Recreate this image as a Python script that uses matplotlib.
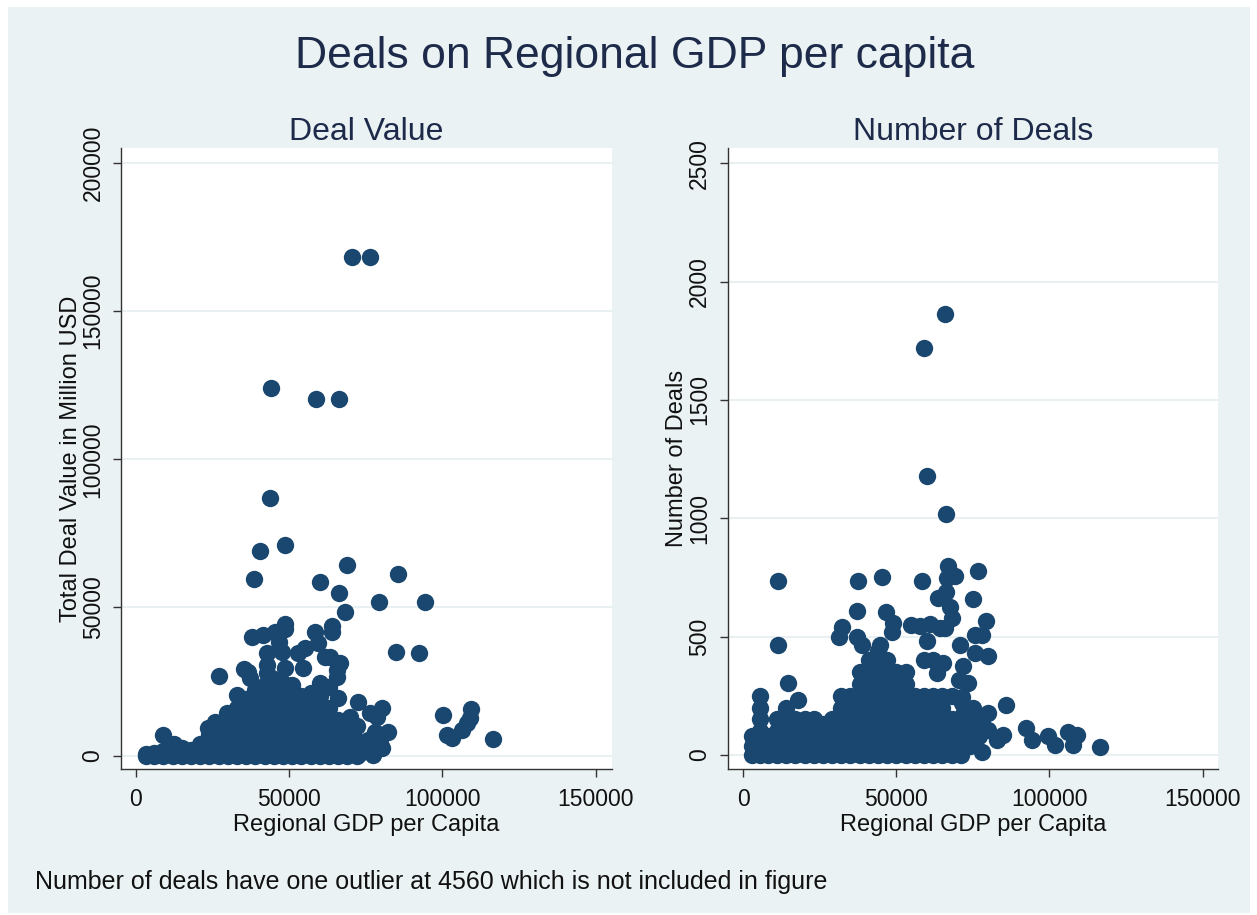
import matplotlib
matplotlib.use("Agg")
import matplotlib.pyplot as plt
from matplotlib.patches import Rectangle

# ---------------- data ----------------
# Left panel: Regional GDP per capita vs total deal value (million USD)
value_outlier_gdp = [70500, 76400, 44100, 58800, 66200, 43900, 40500, 48800, 69000, 38600,
                     60100, 66400, 85600, 79400, 68200, 94300, 84900, 92400, 48700, 48700,
                     37800, 41400, 45400, 46700, 47600, 42700, 42700, 58500, 59500, 63900,
                     63900, 53000, 55200, 61700, 63300, 66600, 48700, 54600, 35300, 36700,
                     37300, 65700, 65700, 27300, 42700, 32900, 100100, 101400, 103000, 106300,
                     107900, 109000, 109200, 116400, 8800, 72600, 80200, 82300, 80200, 77500,
                     75800, 76400, 78600, 69900, 67700, 73100, 79700, 25900, 29700, 23700]
value_outlier_val = [168300, 168300, 124000, 120300, 120300, 86800, 69200, 71200, 64300, 59700,
                     58600, 55000, 61300, 51700, 48500, 51700, 35100, 34800, 44300, 42700,
                     40100, 40700, 41800, 38500, 35100, 34600, 30600, 41800, 37900, 43800,
                     41800, 34500, 36200, 33400, 33400, 31200, 29700, 29700, 29100, 28300,
                     26100, 28900, 26700, 27000, 27800, 20500, 13700, 7000, 5900, 8700,
                     10900, 12600, 15800, 5700, 6900, 18200, 16000, 8100, 2500, 240,
                     5300, 14300, 13200, 13200, 7600, 800, 4200, 11500, 14300, 9200]

value_cluster_gdp = [3500, 3500, 6000, 6000, 9000, 9000, 12000, 12000, 12600, 15000, 15000, 15000,
                     18000, 18000, 21000, 21000, 21000, 24000, 24000, 24000, 27000, 27000, 27000,
                     30000, 30000, 30000, 30000, 33000, 33000, 33000, 33000, 33000,
                     36000, 36000, 36000, 36000, 36000, 36000,
                     39000, 39000, 39000, 39000, 39000, 39000, 39000,
                     42000, 42000, 42000, 42000, 42000, 42000, 42000,
                     45000, 45000, 45000, 45000, 45000, 45000, 45000, 45000,
                     48000, 48000, 48000, 48000, 48000, 48000, 48000,
                     51000, 51000, 51000, 51000, 51000, 51000, 51000,
                     54000, 54000, 54000, 54000, 54000, 54000,
                     57000, 57000, 57000, 57000, 57000, 57000,
                     60000, 60000, 60000, 60000, 60000, 60000, 60000,
                     63000, 63000, 63000, 63000, 63000, 63000,
                     66000, 66000, 66000, 66000, 66000,
                     69000, 69000, 69000, 69000, 72000, 72000, 72000, 75000, 78000]
value_cluster_val = [0, 600, 0, 900, 0, 1500, 0, 2000, 4000, 0, 1500, 2500,
                     0, 1800, 0, 2500, 4000, 0, 3500, 7000, 0, 4000, 8000,
                     0, 4000, 8000, 12000, 0, 4000, 8000, 12000, 16000,
                     0, 4000, 8000, 12000, 16000, 19000,
                     0, 4000, 8000, 12000, 16000, 20000, 22000,
                     0, 4000, 8000, 12000, 16000, 20000, 24000,
                     0, 4000, 8000, 12000, 16000, 20000, 24000, 26000,
                     0, 4000, 8000, 12000, 16000, 20000, 24400,
                     0, 4000, 8000, 12000, 16000, 20000, 23900,
                     0, 4000, 8000, 12000, 16000, 20000,
                     0, 4000, 8000, 12000, 16000, 21100,
                     0, 4000, 8000, 12000, 16000, 20000, 24400,
                     0, 4000, 8000, 12000, 16000, 23300,
                     0, 4000, 8000, 12000, 19400,
                     0, 3000, 7000, 11000, 0, 5000, 10000, 2000, 8000]

# Right panel: Regional GDP per capita vs number of deals
count_outlier_gdp = [59000, 65900, 60000, 66100, 11400, 11200, 14700, 37600, 45200, 58300,
                     67000, 66400, 69100, 76800, 66200, 63700, 75100, 67500, 68100, 79300,
                     37000, 46500, 32100, 31400, 37000, 38700, 49000, 48500, 54700, 57700,
                     61000, 64200, 65900, 60100, 44600, 70800, 75700, 77900, 75700, 80000,
                     71700, 70500, 73500, 77900, 85800, 80000, 92300, 94200, 99600, 101800,
                     106100, 108900, 107800, 116500, 84900, 82800, 80000, 71300, 71300, 65300,
                     63200, 18000, 72000, 75000, 78000, 74000, 77000, 70000]
count_outlier_num = [1720, 1864, 1179, 1019, 735, 464, 306, 735, 751, 735,
                     799, 747, 754, 776, 690, 662, 661, 624, 578, 568,
                     610, 603, 542, 500, 500, 465, 557, 521, 550, 546,
                     555, 538, 536, 483, 465, 465, 507, 507, 432, 418,
                     377, 317, 306, 14, 213, 176, 113, 63, 80, 42,
                     98, 85, 42, 35, 85, 63, 106, 246, 218, 388,
                     345, 232, 180, 200, 150, 130, 100, 150]

count_cluster_gdp = [3000, 3000, 3000, 5500, 5500, 5500, 5500, 5500, 5500, 8000, 8000, 8000,
                     11000, 11000, 11000, 11000, 14000, 14000, 14000, 14000, 14000,
                     17000, 17000, 17000, 17000, 20000, 20000, 20000, 20000,
                     23000, 23000, 23000, 23000, 26000, 26000, 26000, 26000,
                     29000, 29000, 29000, 29000, 32000, 32000, 32000, 32000, 32000, 32000,
                     35000, 35000, 35000, 35000, 35000, 35000,
                     38000, 38000, 38000, 38000, 38000, 38000, 38000, 38000,
                     41000, 41000, 41000, 41000, 41000, 41000, 41000, 41000, 41000,
                     44000, 44000, 44000, 44000, 44000, 44000, 44000, 44000, 44000, 44000,
                     47000, 47000, 47000, 47000, 47000, 47000, 47000, 47000, 47000,
                     50000, 50000, 50000, 50000, 50000, 50000, 50000, 50000,
                     53000, 53000, 53000, 53000, 53000, 53000, 53000, 53000,
                     56000, 56000, 56000, 56000, 56000, 56000,
                     59000, 59000, 59000, 59000, 59000, 59000, 59000,
                     62000, 62000, 62000, 62000, 62000, 62000, 62000,
                     65000, 65000, 65000, 65000, 65000, 65000,
                     68000, 68000, 68000, 68000, 68000,
                     71000, 71000, 71000, 74000, 74000, 74000, 77000, 77000]
count_cluster_num = [0, 40, 80, 0, 50, 100, 150, 200, 250, 0, 40, 80,
                     0, 50, 100, 150, 0, 50, 100, 150, 200,
                     0, 50, 100, 150, 0, 50, 100, 150,
                     0, 50, 100, 150, 0, 50, 100, 130,
                     0, 50, 100, 150, 0, 50, 100, 150, 200, 250,
                     0, 50, 100, 150, 200, 250,
                     0, 50, 100, 150, 200, 250, 300, 350,
                     0, 50, 100, 150, 200, 250, 300, 350, 400,
                     0, 50, 100, 150, 200, 250, 300, 350, 400, 440,
                     0, 50, 100, 150, 200, 250, 300, 350, 400,
                     0, 50, 100, 150, 200, 250, 300, 350,
                     0, 50, 100, 150, 200, 250, 300, 350,
                     0, 50, 100, 150, 200, 250,
                     0, 50, 100, 150, 200, 250, 400,
                     0, 50, 100, 150, 200, 250, 400,
                     0, 50, 100, 150, 200, 250,
                     0, 50, 100, 150, 250,
                     0, 60, 120, 40, 100, 160, 80, 150]

x_ticks = [0, 50000, 100000, 150000]
value_ticks = [0, 50000, 100000, 150000, 200000]
count_ticks = [0, 500, 1000, 1500, 2000, 2500]

main_title = "Deals on Regional GDP per capita"
left_title = "Deal Value"
right_title = "Number of Deals"
x_label = "Regional GDP per Capita"
left_ylabel = "Total Deal Value in Million USD"
right_ylabel = "Number of Deals"
note = "Number of deals have one outlier at 4560 which is not included in figure"

# ---------------- style ----------------
plt.rcParams['font.family'] = ['Liberation Sans', 'DejaVu Sans']
BG = "#eaf2f3"
NAVY = "#1a476f"
TITLE_C = "#1e2a4a"
W, H = 1257, 915

fig = plt.figure(figsize=(W / 100, H / 100), dpi=100, facecolor="white")
fig.patches.append(Rectangle((8 / W, 1 - 913 / H), (1250 - 8) / W, (913 - 7) / H,
                             transform=fig.transFigure, facecolor=BG, edgecolor="none", zorder=-10))


def px_axes(x0, y0, x1, y1):
    return fig.add_axes([x0 / W, 1 - y1 / H, (x1 - x0) / W, (y1 - y0) / H])


def style(ax, yticks, ylim, xlim, ylabel, title):
    ax.set_facecolor("white")
    ax.set_xlim(*xlim)
    ax.set_ylim(*ylim)
    ax.set_xticks(x_ticks)
    ax.set_xticklabels([str(t) for t in x_ticks])
    ax.set_yticks(yticks)
    ax.set_yticklabels([str(t) for t in yticks], rotation=90, va="center")
    for s in ["top", "right"]:
        ax.spines[s].set_visible(False)
    for s in ["left", "bottom"]:
        ax.spines[s].set_color("#333333")
        ax.spines[s].set_linewidth(1.0)
    ax.tick_params(axis="both", direction="out", length=5.8, width=1.0, color="#333333",
                   labelsize=16.5, labelcolor="#111111")
    ax.tick_params(axis="x", pad=8)
    ax.tick_params(axis="y", pad=6)
    ax.grid(axis="y", color="#e6eff1", linewidth=1.3)
    ax.set_axisbelow(True)
    ax.set_xlabel(x_label, fontsize=17, color="#111111", labelpad=2)
    ax.set_ylabel(ylabel, fontsize=17, color="#111111", labelpad=0)
    ax.set_title(title, fontsize=23, color=TITLE_C, pad=6)


ax1 = px_axes(121, 148, 612, 769.3)
ax2 = px_axes(727.7, 148, 1218.3, 769.3)

ms = 12.5
ax1.plot(value_cluster_gdp, value_cluster_val, "o", ms=ms, color=NAVY, mec="none", zorder=3)
ax1.plot(value_outlier_gdp, value_outlier_val, "o", ms=ms, color=NAVY, mec="none", zorder=3)
ax2.plot(count_cluster_gdp, count_cluster_num, "o", ms=ms, color=NAVY, mec="none", zorder=3)
ax2.plot(count_outlier_gdp, count_outlier_num, "o", ms=ms, color=NAVY, mec="none", zorder=3)

style(ax1, value_ticks, (-4590, 205030), (-4790, 155250), left_ylabel, left_title)
style(ax2, count_ticks, (-60.4, 2564), (-5095, 155130), right_ylabel, right_title)

fig.text(635 / W, 1 - 68 / H, main_title, ha="center", va="baseline", fontsize=32, color=TITLE_C)
fig.text(35 / W, 1 - 882 / H, note, ha="left", va="center", fontsize=18, color="#111111")

fig.savefig("out.png", dpi=100, facecolor="white")
